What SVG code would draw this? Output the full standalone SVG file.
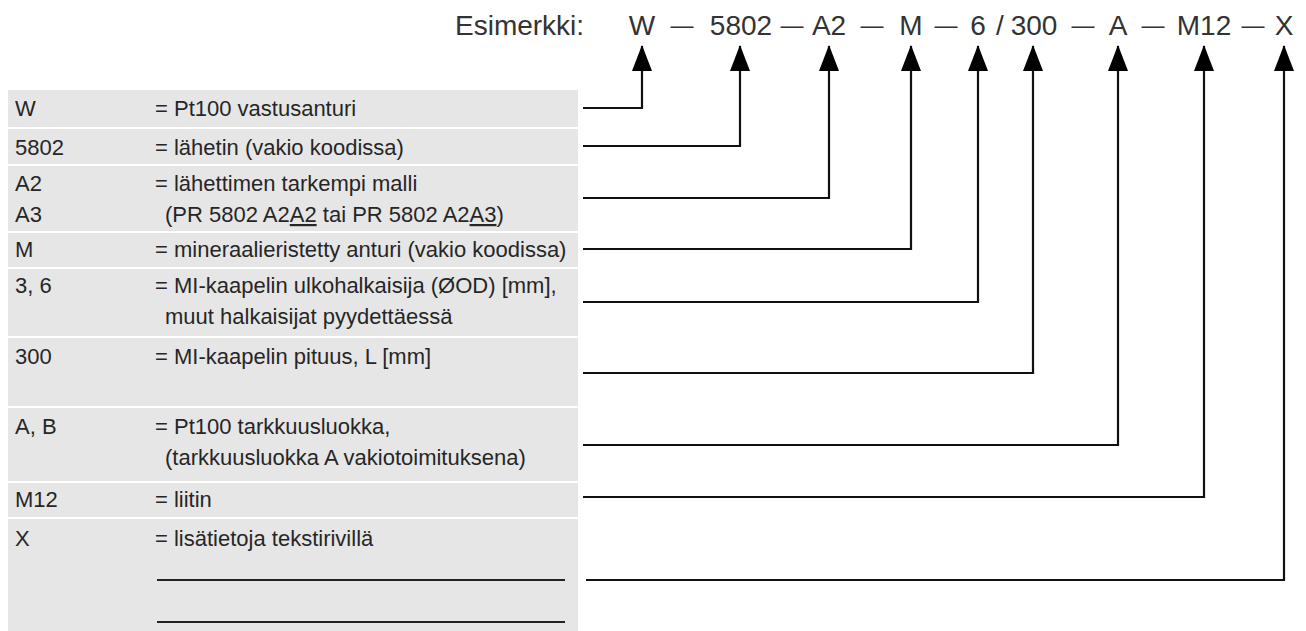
<svg xmlns="http://www.w3.org/2000/svg" width="1306" height="631" viewBox="0 0 1306 631">
<defs>
<style>
.row{fill:#e6e6e6}
.t{font-family:"Liberation Sans",Arial,sans-serif;font-size:22px;fill:#262626}
.h{font-family:"Liberation Sans",Arial,sans-serif;font-size:28px;fill:#333}
.d{font-family:"Liberation Sans",Arial,sans-serif;font-size:23px;fill:#333}
.c{fill:none;stroke:#111;stroke-width:2.2}
.u{stroke:#222;stroke-width:1.8}
</style>
<marker id="ah" viewBox="0 0 26 20" refX="25" refY="10" markerWidth="26" markerHeight="20" markerUnits="userSpaceOnUse" orient="auto">
<path d="M0,0 L26,10 L0,20 Z" fill="#000"/>
</marker>
</defs>
<rect width="1306" height="631" fill="#fff"/>

<g id="header">
<text class="h" x="455" y="35">Esimerkki:</text>
<text class="h" x="642" y="35" text-anchor="middle">W</text>
<text class="d" x="682" y="33" text-anchor="middle">—</text>
<text class="h" x="741" y="35" text-anchor="middle">5802</text>
<text class="d" x="792" y="33" text-anchor="middle">—</text>
<text class="h" x="829" y="35" text-anchor="middle">A2</text>
<text class="d" x="872" y="33" text-anchor="middle">—</text>
<text class="h" x="911" y="35" text-anchor="middle">M</text>
<text class="d" x="946" y="33" text-anchor="middle">—</text>
<text class="h" x="978" y="35" text-anchor="middle">6</text>
<text class="h" x="1000" y="35" text-anchor="middle">/</text>
<text class="h" x="1034" y="35" text-anchor="middle">300</text>
<text class="d" x="1083" y="33" text-anchor="middle">—</text>
<text class="h" x="1118" y="35" text-anchor="middle">A</text>
<text class="d" x="1153" y="33" text-anchor="middle">—</text>
<text class="h" x="1204" y="35" text-anchor="middle">M12</text>
<text class="d" x="1253" y="33" text-anchor="middle">—</text>
<text class="h" x="1284" y="35" text-anchor="middle">X</text>
</g>

<g id="row-W">
<rect class="row" x="8" y="90" width="570" height="37"/>
<text class="t" x="15" y="116">W</text>
<text class="t" x="155" y="116">= Pt100 vastusanturi</text>
</g>
<g id="row-5802">
<rect class="row" x="8" y="129" width="570" height="35"/>
<text class="t" x="15" y="155">5802</text>
<text class="t" x="155" y="155">= lähetin (vakio koodissa)</text>
</g>
<g id="row-A2">
<rect class="row" x="8" y="166" width="570" height="65"/>
<text class="t" x="15" y="191">A2</text>
<text class="t" x="15" y="222">A3</text>
<text class="t" x="155" y="191">= lähettimen tarkempi malli</text>
<text class="t" x="165" y="222">(PR 5802 A2<tspan text-decoration="underline">A2</tspan> tai PR 5802 A2<tspan text-decoration="underline">A3</tspan>)</text>
</g>
<g id="row-M">
<rect class="row" x="8" y="233" width="570" height="34"/>
<text class="t" x="15" y="257">M</text>
<text class="t" x="155" y="257">= mineraalieristetty anturi (vakio koodissa)</text>
</g>
<g id="row-36">
<rect class="row" x="8" y="269" width="570" height="67"/>
<text class="t" x="15" y="293">3, 6</text>
<text class="t" x="155" y="293">= MI-kaapelin ulkohalkaisija (ØOD) [mm],</text>
<text class="t" x="165" y="324">muut halkaisijat pyydettäessä</text>
</g>
<g id="row-300">
<rect class="row" x="8" y="338" width="570" height="68"/>
<text class="t" x="15" y="364">300</text>
<text class="t" x="155" y="364">= MI-kaapelin pituus, L [mm]</text>
</g>
<g id="row-AB">
<rect class="row" x="8" y="408" width="570" height="73"/>
<text class="t" x="15" y="434">A, B</text>
<text class="t" x="155" y="434">= Pt100 tarkkuusluokka,</text>
<text class="t" x="165" y="465">(tarkkuusluokka A vakiotoimituksena)</text>
</g>
<g id="row-M12">
<rect class="row" x="8" y="483" width="570" height="34"/>
<text class="t" x="15" y="507">M12</text>
<text class="t" x="155" y="507">= liitin</text>
</g>
<g id="row-X">
<rect class="row" x="8" y="519" width="570" height="112"/>
<text class="t" x="15" y="546">X</text>
<text class="t" x="155" y="546">= lisätietoja tekstirivillä</text>
<line class="u" x1="157" y1="580" x2="565" y2="580"/>
<line class="u" x1="157" y1="622" x2="565" y2="622"/>
</g>

<g id="connectors">
<path class="c" marker-end="url(#ah)" d="M583,108 H642 V46"/>
<path class="c" marker-end="url(#ah)" d="M583,146 H740 V46"/>
<path class="c" marker-end="url(#ah)" d="M583,198 H829 V46"/>
<path class="c" marker-end="url(#ah)" d="M583,249 H911 V46"/>
<path class="c" marker-end="url(#ah)" d="M583,302 H978 V46"/>
<path class="c" marker-end="url(#ah)" d="M583,373 H1033 V46"/>
<path class="c" marker-end="url(#ah)" d="M583,445 H1118 V46"/>
<path class="c" marker-end="url(#ah)" d="M583,497 H1204 V46"/>
<path class="c" marker-end="url(#ah)" d="M586,580 H1284 V46"/>
</g>
</svg>
